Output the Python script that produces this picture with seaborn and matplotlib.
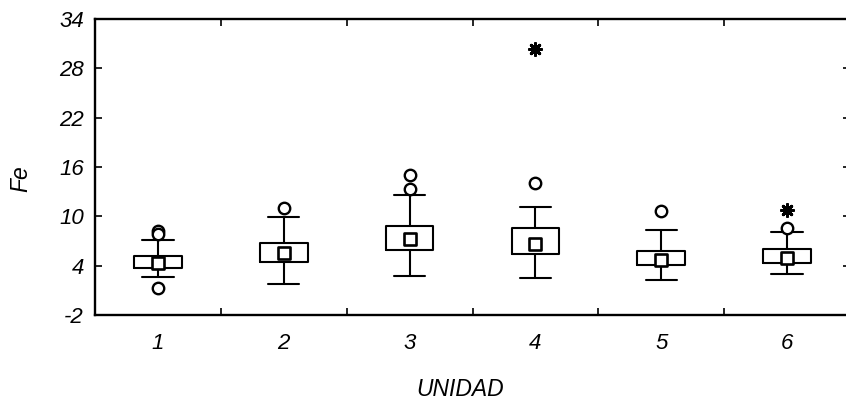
import numpy as np
import pandas as pd
import matplotlib
matplotlib.use("Agg")
import matplotlib.pyplot as plt
from matplotlib.ticker import FixedLocator
import seaborn as sns

# Fe by UNIDAD: box = 25%-75%, square = median, whiskers = non-outlier range
units = ["1", "2", "3", "4", "5", "6"]
q1 = [3.75, 4.45, 5.95, 5.45, 4.05, 4.35]
median = [4.3, 5.6, 7.3, 6.65, 4.7, 4.9]
q3 = [5.15, 6.8, 8.8, 8.55, 5.75, 6.05]
whisker_low = [2.65, 1.75, 2.7, 2.45, 2.3, 2.95]
whisker_high = [7.15, 9.9, 12.65, 11.1, 8.35, 8.15]

# outliers (circles) and extremes (asterisks)
outlier_unit = ["1", "1", "1", "2", "3", "3", "4", "5", "6"]
outlier_fe = [8.2, 7.85, 1.3, 11.05, 15.0, 13.35, 14.1, 10.65, 8.6]
extreme_unit = ["4", "6"]
extreme_fe = [30.35, 10.75]

y_ticks = [-2, 4, 10, 16, 22, 28, 34]

sns.set_theme(style="ticks")
plt.rcParams["font.family"] = ["Liberation Sans", "DejaVu Sans"]
plt.rcParams["font.style"] = "italic"
for key in ["text.color", "axes.labelcolor", "xtick.color", "ytick.color",
            "axes.edgecolor"]:
    plt.rcParams[key] = "black"

W, H = 846, 401
fig = plt.figure(figsize=(W / 100, H / 100), dpi=100)
fig.patch.set_facecolor("white")
ax_left, ax_bottom, ax_w, ax_h = 95, 315, 755, 296
ax = fig.add_axes([ax_left / W, (H - ax_bottom) / H, ax_w / W, ax_h / H])
ax.set_facecolor("white")

pos = np.arange(len(units))
stats = [
    dict(med=m, q1=a, q3=b, whislo=lo, whishi=hi, fliers=[])
    for m, a, b, lo, hi in zip(median, q1, q3, whisker_low, whisker_high)
]
line = dict(color="black", linewidth=1.5)
ax.bxp(stats, positions=pos, widths=0.38, capwidths=0.25,
       boxprops=line, whiskerprops=line, capprops=line,
       medianprops=dict(linewidth=0), showfliers=False, patch_artist=False,
       manage_ticks=False)

idx = {u: i for i, u in enumerate(units)}
med_df = pd.DataFrame({"x": pos, "Fe": median})
out_df = pd.DataFrame({"x": [idx[u] for u in outlier_unit], "Fe": outlier_fe})
ext_df = pd.DataFrame({"x": [idx[u] for u in extreme_unit], "Fe": extreme_fe})

sns.scatterplot(data=med_df, x="x", y="Fe", marker="s", s=64, color="white",
                edgecolor="black", linewidth=1.9, ax=ax, zorder=5)
sns.scatterplot(data=out_df, x="x", y="Fe", marker="o", s=68, color="white",
                edgecolor="black", linewidth=1.7, ax=ax, zorder=5)
sns.scatterplot(data=ext_df, x="x", y="Fe", marker=(8, 2, 0), s=75,
                color="black", linewidth=2.1, ax=ax, zorder=5)

ax.set_xlim(-0.5, len(units) - 0.5)
ax.set_ylim(-2, 34)
ax.set_yticks(y_ticks)
ax.set_yticklabels([str(t) for t in y_ticks])
ax.set_xticks(pos)
ax.set_xticklabels(units)
ax.xaxis.set_minor_locator(FixedLocator(pos[:-1] + 0.5))

ax.tick_params(axis="x", which="major", length=0, pad=13, labelsize=16,
               labelcolor="black")
ax.tick_params(axis="x", which="minor", length=5, width=1.2, direction="in",
               top=True, bottom=True, color="black")
ax.tick_params(axis="y", which="major", length=5, width=1.2, direction="in",
               left=True, right=True, labelsize=16, pad=8, color="black",
               labelcolor="black")

for side in ["left", "right", "top", "bottom"]:
    ax.spines[side].set_visible(True)
    ax.spines[side].set_color("black")
    ax.spines[side].set_linewidth(1.7)

ax.set_xlabel("UNIDAD", fontsize=16.5, color="black")
ax.set_ylabel("Fe", fontsize=16.5, color="black")
ax.xaxis.label.set_va("center")
ax.yaxis.label.set_va("center")
ax.xaxis.set_label_coords((460 - ax_left) / ax_w, (ax_bottom - 389) / ax_h)
ax.yaxis.set_label_coords((21 - ax_left) / ax_w, (ax_bottom - 179) / ax_h)

fig.savefig("out.png", dpi=100, facecolor="white")
